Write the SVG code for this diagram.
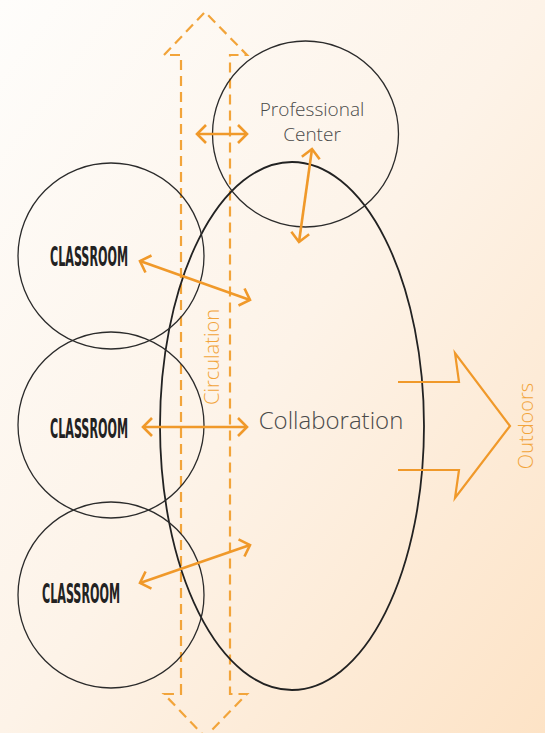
<svg xmlns="http://www.w3.org/2000/svg" width="545" height="733" viewBox="0 0 545 733">
<defs>
<linearGradient id="bg" x1="0" y1="0" x2="1" y2="1">
<stop offset="0" stop-color="#fefdfb"/>
<stop offset="0.5" stop-color="#fdf3e8"/>
<stop offset="1" stop-color="#fde3c6"/>
</linearGradient>
<marker id="chev" markerUnits="userSpaceOnUse" markerWidth="30" markerHeight="30" refX="0" refY="0" viewBox="-15 -15 30 30" orient="auto-start-reverse" overflow="visible">
<path d="M-9,-9 L0,0 L-9,9" fill="none" stroke="#f0992a" stroke-width="2.6" stroke-linejoin="miter" stroke-linecap="butt"/>
</marker>
<style>
.ring{fill:none;stroke:#2b2b2b;stroke-width:1.3}
.big{fill:none;stroke:#222;stroke-width:1.8}
.dash{fill:none;stroke:#f2a43a;stroke-width:2.2;stroke-dasharray:10 6}
.link{fill:none;stroke:#f0992a;stroke-width:2.6;marker-start:url(#chev);marker-end:url(#chev)}
.cls{font-family:"DejaVu Sans Condensed","DejaVu Sans",sans-serif;font-weight:bold;font-size:26px;fill:#222}
.lbl{font-family:"Open Sans","Noto Sans",sans-serif;font-weight:300;fill:#4a4a4a}
.olbl{font-family:"Open Sans","Noto Sans",sans-serif;font-weight:300;fill:#f2a43a}
</style>
</defs>
<rect width="545" height="733" fill="url(#bg)"/>

<g id="circulation">
<path class="dash" d="M181,694 V55 H164 L205,12 L247,55 H230 V694 H247 L205,737 L164,694 Z"/>
<text class="olbl" font-size="20" transform="translate(219,357) rotate(-90)" text-anchor="middle">Circulation</text>
</g>

<g id="collaboration">
<ellipse class="big" cx="292" cy="426" rx="132" ry="264"/>
<text class="lbl" x="331" y="429" font-size="24" text-anchor="middle">Collaboration</text>
</g>

<g id="professional-center">
<circle class="ring" cx="305.5" cy="134" r="93"/>
<text class="lbl" x="312" y="116" font-size="19" text-anchor="middle">Professional</text>
<text class="lbl" x="312" y="141" font-size="19" text-anchor="middle">Center</text>
</g>

<g id="classroom-1">
<circle class="ring" cx="111" cy="256" r="93"/>
<text class="cls" x="50" y="266" textLength="78" lengthAdjust="spacingAndGlyphs">CLASSROOM</text>
</g>
<g id="classroom-2">
<circle class="ring" cx="111" cy="425" r="93"/>
<text class="cls" x="50" y="438" textLength="78" lengthAdjust="spacingAndGlyphs">CLASSROOM</text>
</g>
<g id="classroom-3">
<circle class="ring" cx="111" cy="595" r="93"/>
<text class="cls" x="42" y="603" textLength="78" lengthAdjust="spacingAndGlyphs">CLASSROOM</text>
</g>

<g id="outdoors">
<path d="M398,382 H459 L455,353 L510,426 L455,498 L459,470 H398" fill="none" stroke="#f0992a" stroke-width="2.2" stroke-linejoin="miter"/>
<text class="olbl" font-size="20" transform="translate(533,426) rotate(-90)" text-anchor="middle">Outdoors</text>
</g>

<g id="connectors">
<line class="link" x1="197" y1="134" x2="247" y2="134"/>
<line class="link" x1="312" y1="149" x2="299" y2="242"/>
<line class="link" x1="140" y1="261" x2="250" y2="300"/>
<line class="link" x1="143" y1="427" x2="247" y2="427"/>
<line class="link" x1="140" y1="583" x2="250" y2="545"/>
</g>
</svg>
